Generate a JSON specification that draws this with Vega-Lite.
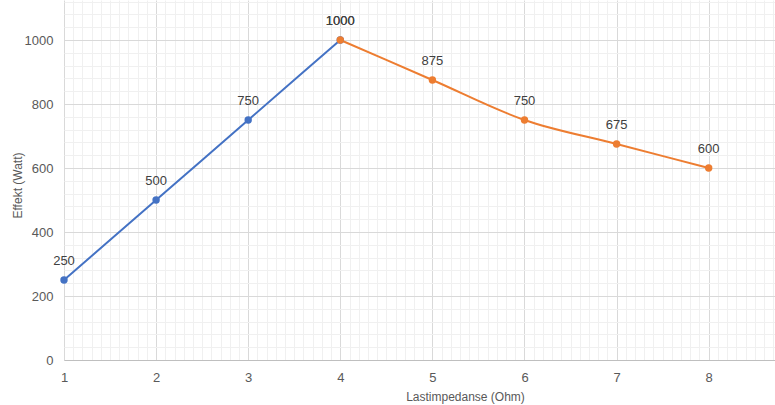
{
  "$schema": "https://vega.github.io/schema/vega-lite/v6.json",
  "width": 711,
  "height": 360,
  "autosize": "none",
  "padding": {"left": 64, "top": 0, "right": 0, "bottom": 45},
  "background": "white",
  "config": {"view": {"stroke": null}, "font": "Liberation Sans"},
  "data": {
    "values": [
      {"series": "A", "x": 1, "y": 250},
      {"series": "A", "x": 2, "y": 500},
      {"series": "A", "x": 3, "y": 750},
      {"series": "A", "x": 4, "y": 1000},
      {"series": "B", "x": 4, "y": 1000},
      {"series": "B", "x": 5, "y": 875},
      {"series": "B", "x": 6, "y": 750},
      {"series": "B", "x": 7, "y": 675},
      {"series": "B", "x": 8, "y": 600}
    ]
  },
  "layer": [
    {
      "mark": {"type": "point", "opacity": 0},
      "encoding": {
        "x": {"field": "x", "type": "quantitative", "scale": {"domain": [1, 8.72], "nice": false, "zero": false},
          "axis": {"orient": "bottom", "title": null, "labels": false, "ticks": false, "domain": false, "grid": true, "gridColor": "#f0f0f0", "gridWidth": 1,
            "values": [1.1,1.2,1.3,1.4,1.5,1.6,1.7,1.8,1.9,2.1,2.2,2.3,2.4,2.5,2.6,2.7,2.8,2.9,3.1,3.2,3.3,3.4,3.5,3.6,3.7,3.8,3.9,4.1,4.2,4.3,4.4,4.5,4.6,4.7,4.8,4.9,5.1,5.2,5.3,5.4,5.5,5.6,5.7,5.8,5.9,6.1,6.2,6.3,6.4,6.5,6.6,6.7,6.8,6.9,7.1,7.2,7.3,7.4,7.5,7.6,7.7,7.8,7.9,8.1,8.2,8.3,8.4,8.5,8.6,8.7]}},
        "y": {"field": "y", "type": "quantitative", "scale": {"domain": [0, 1125], "nice": false, "zero": true},
          "axis": {"orient": "left", "title": null, "labels": false, "ticks": false, "domain": false, "grid": true, "gridColor": "#f0f0f0", "gridWidth": 1,
            "values": [40,80,120,160,240,280,320,360,440,480,520,560,640,680,720,760,840,880,920,960,1040,1080,1120]}}
      }
    },
    {
      "mark": {"type": "point", "opacity": 0},
      "encoding": {
        "x": {"field": "x", "type": "quantitative",
          "axis": {"orient": "bottom", "title": "Lastimpedanse (Ohm)", "values": [1,2,3,4,5,6,7,8], "format": "d", "labelFlush": false, "grid": true, "gridColor": "#d9d9d9", "ticks": false, "domain": true, "domainColor": "#bfbfbf", "labelPadding": 11, "labelFontSize": 13, "labelColor": "#595959", "titleFontSize": 12, "titleFontWeight": "normal", "titleColor": "#595959", "titleX": 401, "titleY": 40, "titleBaseline": "alphabetic"}},
        "y": {"field": "y", "type": "quantitative",
          "axis": {"orient": "left", "title": "Effekt (Watt)", "values": [0,200,400,600,800,1000], "format": "d", "labelFlush": false, "grid": true, "gridColor": "#d9d9d9", "ticks": false, "domain": false, "labelPadding": 11, "labelFontSize": 13, "labelColor": "#595959", "titleFontSize": 12, "titleFontWeight": "normal", "titleColor": "#595959", "titleX": -43, "titleY": 185, "titleBaseline": "alphabetic"}}
      }
    },
    {
      "mark": {"type": "line", "interpolate": "monotone", "strokeWidth": 2},
      "encoding": {
        "x": {"field": "x", "type": "quantitative", "axis": null},
        "y": {"field": "y", "type": "quantitative", "axis": null},
        "color": {"field": "series", "type": "nominal", "scale": {"domain": ["A", "B"], "range": ["#4472C4", "#ED7D31"]}, "legend": null}
      }
    },
    {
      "mark": {"type": "point", "filled": true, "opacity": 1, "size": 55},
      "encoding": {
        "x": {"field": "x", "type": "quantitative", "axis": null},
        "y": {"field": "y", "type": "quantitative", "axis": null},
        "color": {"field": "series", "type": "nominal", "legend": null}
      }
    },
    {
      "mark": {"type": "text", "dy": -19, "fontSize": 13, "color": "#404040"},
      "encoding": {
        "x": {"field": "x", "type": "quantitative", "axis": null},
        "y": {"field": "y", "type": "quantitative", "axis": null},
        "text": {"field": "y", "type": "quantitative", "format": "d"}
      }
    }
  ],
  "resolve": {"axis": {"x": "independent", "y": "independent"}}
}
